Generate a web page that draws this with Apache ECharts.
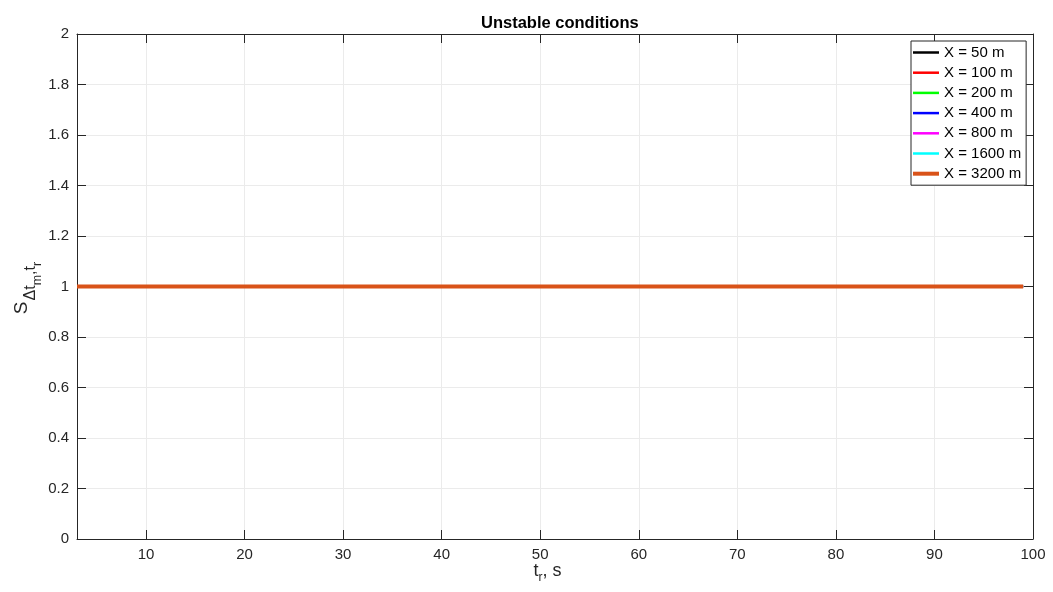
<!DOCTYPE html>
<html>
<head>
<meta charset="utf-8">
<title>Unstable conditions</title>
<script src="https://cdn.jsdelivr.net/npm/echarts@6/dist/echarts.min.js"></script>
<style>
  html, body { margin: 0; padding: 0; background: #ffffff; }
  #chart { width: 1053px; height: 592px; }
</style>
</head>
<body>
<div id="chart"></div>
<script>
// Retained-time samples (s) and the normalised spread S at each distance X
const tr = [3, 99];
const S_50 = [1, 1];
const S_100 = [1, 1];
const S_200 = [1, 1];
const S_400 = [1, 1];
const S_800 = [1, 1];
const S_1600 = [1, 1];
const S_3200 = [1, 1];

const seriesNames = ['X = 50 m', 'X = 100 m', 'X = 200 m', 'X = 400 m', 'X = 800 m', 'X = 1600 m', 'X = 3200 m'];
const seriesValues = [S_50, S_100, S_200, S_400, S_800, S_1600, S_3200];
const seriesColors = ['#000000', '#ff0000', '#00ff00', '#0000ff', '#ff00ff', '#00ffff', '#d95319'];
const seriesWidths = [2, 2, 2, 2, 2, 2, 4];

const xTicks = [10, 20, 30, 40, 50, 60, 70, 80, 90, 100];
const titleText = 'Unstable conditions';

const FONT = "'Liberation Sans', Arial, Helvetica, sans-serif";
const INK = '#262626';

const chart = echarts.init(document.getElementById('chart'), null, { renderer: 'canvas' });

const series = seriesNames.map((name, k) => ({
  name: name,
  type: 'line',
  xAxisIndex: 0,
  yAxisIndex: 0,
  symbol: 'none',
  animation: false,
  color: seriesColors[k],
  lineStyle: { color: seriesColors[k], width: seriesWidths[k] },
  data: tr.map((t, i) => [t, seriesValues[k][i]])
}));

const legendData = seriesNames.map((name, k) => ({
  name: name,
  icon: seriesWidths[k] > 2 ? 'path://M0,0H26V4H0Z' : 'path://M0,0H26V2.5H0Z',
  symbolKeepAspect: true
}));

const gridLine = { show: true, lineStyle: { color: '#ebebeb', width: 1, type: 'solid' } };

chart.setOption({
  backgroundColor: '#ffffff',
  animation: false,
  textStyle: { fontFamily: FONT },
  title: {
    text: titleText,
    left: 476,
    top: 10,
    textStyle: { fontFamily: FONT, fontSize: 16.5, fontWeight: 'bold', color: '#000000' }
  },
  grid: { left: 77, right: 20, top: 34, bottom: 53, containLabel: false },
  legend: {
    orient: 'vertical',
    left: 911,
    top: 41,
    padding: [4, 5, 4, 2],
    itemWidth: 26,
    itemHeight: 15,
    itemGap: 5.2,
    symbolKeepAspect: true,
    backgroundColor: '#ffffff',
    borderColor: INK,
    borderWidth: 1,
    borderRadius: 0,
    textStyle: { fontFamily: FONT, fontSize: 15, color: '#000000', lineHeight: 15 },
    data: legendData
  },
  xAxis: [
    {
      type: 'value',
      position: 'bottom',
      min: 3,
      max: 100,
      axisLine: { show: true, onZero: false, lineStyle: { color: INK, width: 1 } },
      axisTick: { show: true, inside: true, length: 9, customValues: xTicks, lineStyle: { color: INK } },
      axisLabel: { show: true, customValues: xTicks, margin: 8, fontFamily: FONT, fontSize: 15, color: INK },
      splitLine: gridLine
    },
    {
      type: 'value',
      position: 'top',
      min: 3,
      max: 100,
      axisLine: { show: true, onZero: false, lineStyle: { color: INK, width: 1 } },
      axisTick: { show: true, inside: true, length: 9, customValues: xTicks, lineStyle: { color: INK } },
      axisLabel: { show: false },
      splitLine: { show: false }
    }
  ],
  yAxis: [
    {
      type: 'value',
      position: 'left',
      min: 0,
      max: 2,
      interval: 0.2,
      axisLine: { show: true, onZero: false, lineStyle: { color: INK, width: 1 } },
      axisTick: { show: true, inside: true, length: 9, lineStyle: { color: INK } },
      axisLabel: { show: true, margin: 8, fontFamily: FONT, fontSize: 15, color: INK },
      splitLine: gridLine
    },
    {
      type: 'value',
      position: 'right',
      min: 0,
      max: 2,
      interval: 0.2,
      axisLine: { show: true, onZero: false, lineStyle: { color: INK, width: 1 } },
      axisTick: { show: true, inside: true, length: 9, lineStyle: { color: INK } },
      axisLabel: { show: false },
      splitLine: { show: false }
    }
  ],
  graphic: [
    {
      // y-axis label: S with nested subscripts Δt_m , t_r
      type: 'text',
      x: 22,
      y: 288,
      rotation: Math.PI / 2,
      style: {
        text: '{s|S}{a|\u0394t}{b|m}{a|,t}{b|r}',
        align: 'center',
        verticalAlign: 'middle',
        fill: INK,
        rich: {
          s: { fontFamily: FONT, fontSize: 19, lineHeight: 19, verticalAlign: 'top', padding: [0, 1, 0, 0], color: INK },
          a: { fontFamily: FONT, fontSize: 16, lineHeight: 16, verticalAlign: 'top', padding: [10, 0, 0, 0], color: INK },
          b: { fontFamily: FONT, fontSize: 12.5, lineHeight: 12.5, verticalAlign: 'top', padding: [19, 0, 0, 0], color: INK }
        }
      }
    },
    {
      // x-axis label: t_r, s
      type: 'text',
      x: 547.5,
      y: 571,
      style: {
        text: '{t|t}{r|r}{t|, s}',
        align: 'center',
        verticalAlign: 'middle',
        fill: INK,
        rich: {
          t: { fontFamily: FONT, fontSize: 18, lineHeight: 18, verticalAlign: 'top', padding: [0, 0, 0, 0], color: INK },
          r: { fontFamily: FONT, fontSize: 12, lineHeight: 12, verticalAlign: 'top', padding: [10, 0, 0, 0], color: INK }
        }
      }
    }
  ],
  series: series
});
</script>
</body>
</html>
